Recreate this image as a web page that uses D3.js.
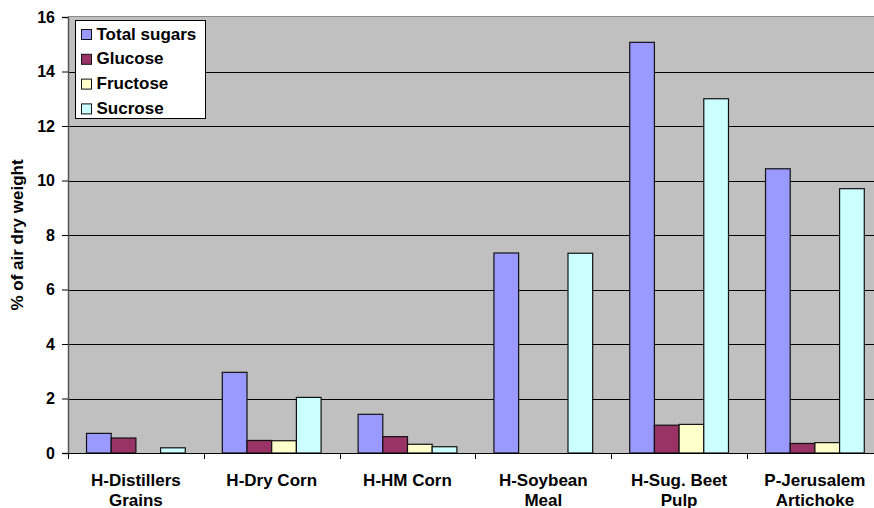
<!DOCTYPE html>
<html>
<head>
<meta charset="utf-8">
<script src="https://cdn.jsdelivr.net/npm/d3@7"></script>
<style>
  html, body { margin: 0; padding: 0; background: #fff; }
  svg { display: block; }
  text { font-family: Arial, "Liberation Sans", sans-serif; font-weight: bold; fill: #000; }
</style>
</head>
<body>
<svg id="chart" width="874" height="508"></svg>
<script>
// Sugar content of feedstuffs, % of air dry weight
const categories = [
  ["H-Distillers", "Grains"],
  ["H-Dry Corn"],
  ["H-HM Corn"],
  ["H-Soybean", "Meal"],
  ["H-Sug. Beet", "Pulp"],
  ["P-Jerusalem", "Artichoke"]
];
const seriesNames = ["Total sugars", "Glucose", "Fructose", "Sucrose"];
const totalSugars = [0.72, 2.96, 1.42, 7.34, 15.07, 10.43];
const glucose     = [0.55, 0.46, 0.60, 0.00, 1.02, 0.35];
const fructose    = [0.00, 0.45, 0.32, 0.00, 1.05, 0.38];
const sucrose     = [0.19, 2.04, 0.23, 7.33, 13.00, 9.70];
const seriesValues = [totalSugars, glucose, fructose, sucrose];
const seriesColors = ["#9999ff", "#993366", "#ffffcc", "#ccffff"];
const yTicks = [0, 2, 4, 6, 8, 10, 12, 14, 16];

const svg = d3.select("#chart");
const plot = { left: 68, top: 17, bottom: 453, step: 135.8 };
plot.right = plot.left + plot.step * categories.length;

const catKeys = categories.map(c => c.join(" "));
const x0 = d3.scaleBand().domain(catKeys).range([plot.left, plot.right]).padding(0);
const x1 = d3.scaleBand().domain(seriesNames).range([0, x0.bandwidth()])
  .paddingInner(0).paddingOuter(0.75);
const y = d3.scaleLinear().domain([0, 16]).range([plot.bottom, plot.top]);

// plot background
svg.append("rect")
  .attr("x", plot.left).attr("y", plot.top)
  .attr("width", plot.right - plot.left).attr("height", plot.bottom - plot.top)
  .attr("fill", "#c0c0c0");

// horizontal gridlines
svg.append("g").selectAll("line")
  .data(yTicks.filter(t => t > 0 && t < 16))
  .join("line")
  .attr("x1", plot.left).attr("x2", plot.right)
  .attr("y1", d => Math.round(y(d)) + 0.5).attr("y2", d => Math.round(y(d)) + 0.5)
  .attr("stroke", "#000").attr("stroke-width", 1);

// top border of plot area
svg.append("line")
  .attr("x1", plot.left).attr("x2", plot.right)
  .attr("y1", plot.top - 0.5).attr("y2", plot.top - 0.5)
  .attr("stroke", "#8c8c8c").attr("stroke-width", 1);

// bars
const groups = svg.append("g").selectAll("g")
  .data(catKeys)
  .join("g")
  .attr("transform", d => `translate(${x0(d)},0)`);

groups.selectAll("rect")
  .data((d, i) => seriesNames.map((s, j) => ({ s, v: seriesValues[j][i], c: seriesColors[j] })))
  .join("rect")
  .filter(d => d.v > 0)
  .attr("x", d => x1(d.s))
  .attr("y", d => y(d.v))
  .attr("width", x1.bandwidth())
  .attr("height", d => y(0) - y(d.v))
  .attr("fill", d => d.c)
  .attr("stroke", "#111")
  .attr("stroke-width", 1.2);

// y axis
const yAxis = svg.append("g")
  .attr("transform", `translate(${plot.left},0)`)
  .call(d3.axisLeft(y).tickValues(yTicks).tickSize(6).tickPadding(7).tickFormat(d3.format("d")));
yAxis.select(".domain").attr("stroke", "#555").attr("stroke-width", 1.5);
yAxis.selectAll(".tick line").attr("stroke", "#000");
yAxis.selectAll(".tick text")
  .attr("font-size", 16).attr("font-family", "Arial, 'Liberation Sans', sans-serif")
  .attr("font-weight", "bold").attr("fill", "#000");

// x axis line with category dividers
svg.append("line")
  .attr("x1", plot.left).attr("x2", plot.right)
  .attr("y1", plot.bottom + 0.5).attr("y2", plot.bottom + 0.5)
  .attr("stroke", "#000").attr("stroke-width", 1);
svg.append("g").selectAll("line")
  .data(d3.range(categories.length + 1))
  .join("line")
  .attr("x1", i => Math.round(plot.left + i * x0.step()) + 0.5)
  .attr("x2", i => Math.round(plot.left + i * x0.step()) + 0.5)
  .attr("y1", plot.bottom).attr("y2", plot.bottom + 6)
  .attr("stroke", "#000");

// category labels
const catLabels = svg.append("g").selectAll("text")
  .data(categories)
  .join("text")
  .attr("x", (d, i) => x0(catKeys[i]) + x0.bandwidth() / 2)
  .attr("y", 485.5)
  .attr("text-anchor", "middle")
  .attr("font-size", 17);
catLabels.selectAll("tspan")
  .data(d => d)
  .join("tspan")
  .attr("x", function () { return this.parentNode.getAttribute("x"); })
  .attr("dy", (d, i) => i === 0 ? 0 : 20)
  .text(d => d);

// y axis title
svg.append("text")
  .attr("transform", `translate(23,${(plot.top + plot.bottom) / 2}) rotate(-90)`)
  .attr("text-anchor", "middle")
  .attr("font-size", 17)
  .text("% of air dry weight");

// legend
const legend = svg.append("g");
legend.append("rect")
  .attr("x", 75.5).attr("y", 20.5).attr("width", 130).attr("height", 98)
  .attr("fill", "#fff").attr("stroke", "#000").attr("stroke-width", 1);
const items = legend.selectAll("g.item")
  .data(seriesNames)
  .join("g")
  .attr("class", "item")
  .attr("transform", (d, i) => `translate(0,${29 + i * 24.8})`);
items.append("rect")
  .attr("x", 81.5).attr("y", 0.5).attr("width", 10).attr("height", 10)
  .attr("fill", (d, i) => seriesColors[i])
  .attr("stroke", "#111").attr("stroke-width", 1);
items.append("text")
  .attr("x", 96.5).attr("y", 10.5)
  .attr("font-size", 17)
  .text(d => d);
</script>
</body>
</html>
